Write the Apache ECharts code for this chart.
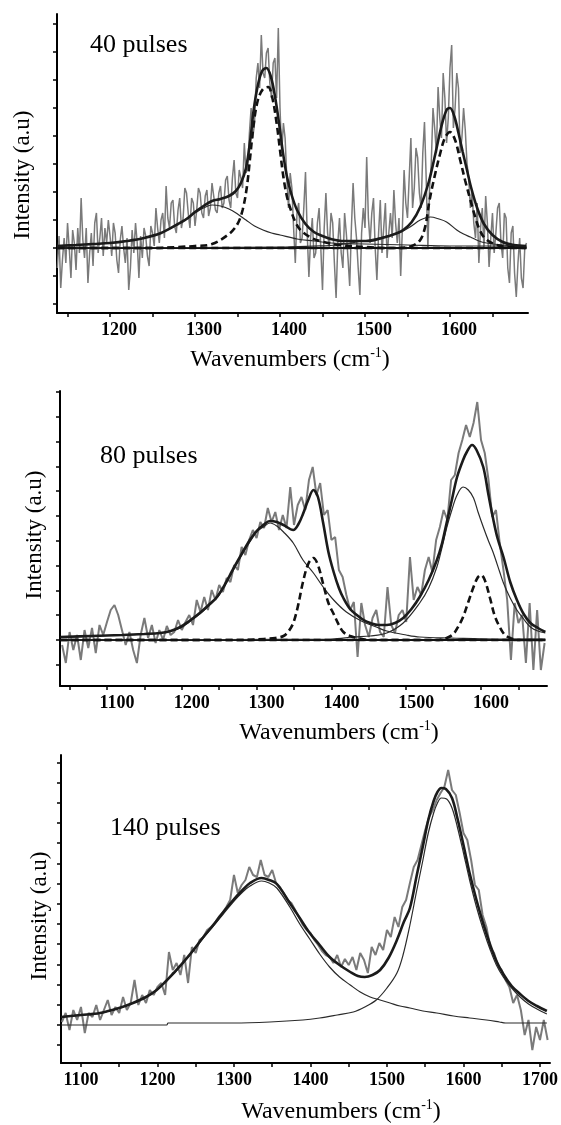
<!DOCTYPE html>
<html><head><meta charset="utf-8">
<script src="https://cdn.jsdelivr.net/npm/echarts@6/dist/echarts.min.js"></script>
<style>html,body{margin:0;padding:0;background:#fff}#c{width:561px;height:1125px}</style>
</head><body><div id="c"></div>
<script>
// ---------- Panel 1 : 40 pulses ----------
var p1Gray = [[1138,-20],[1140,12],[1142,-40],[1144,-12],[1146,10],[1148,-15],[1150,25],[1152,0],[1154,-30],[1156,18],[1158,5],[1160,-22],[1162,20],[1164,-5],[1166,50],[1168,8],[1170,-10],[1172,20],[1174,-35],[1176,-5],[1178,15],[1180,-18],[1182,25],[1184,35],[1186,-5],[1188,10],[1190,30],[1192,-8],[1194,20],[1196,5],[1198,28],[1200,12],[1202,-8],[1204,25],[1206,15],[1208,-12],[1210,-25],[1212,8],[1214,22],[1216,0],[1218,-15],[1220,10],[1222,-42],[1224,-20],[1226,18],[1228,-5],[1230,25],[1232,5],[1234,-30],[1236,12],[1238,-10],[1240,20],[1242,12],[1244,-8],[1246,-18],[1248,22],[1250,15],[1252,2],[1254,40],[1256,20],[1258,5],[1260,28],[1262,35],[1264,10],[1266,62],[1268,30],[1270,20],[1272,45],[1274,48],[1276,22],[1278,15],[1280,38],[1282,50],[1284,20],[1286,30],[1288,60],[1290,55],[1292,35],[1294,20],[1296,50],[1298,45],[1300,22],[1302,38],[1304,60],[1306,55],[1308,35],[1310,30],[1312,52],[1314,58],[1316,32],[1318,40],[1320,65],[1322,52],[1324,38],[1326,35],[1328,55],[1330,62],[1332,40],[1334,45],[1336,68],[1338,72],[1340,48],[1342,40],[1344,70],[1346,88],[1348,55],[1350,50],[1352,78],[1354,70],[1356,60],[1358,105],[1360,75],[1362,80],[1364,115],[1366,140],[1368,110],[1370,125],[1372,170],[1374,185],[1376,160],[1378,213],[1380,175],[1382,170],[1384,195],[1386,200],[1388,165],[1390,150],[1392,185],[1394,190],[1396,150],[1398,220],[1400,140],[1402,95],[1404,125],[1406,110],[1408,70],[1410,40],[1412,75],[1414,60],[1416,20],[1418,-15],[1420,35],[1422,45],[1424,5],[1426,10],[1428,40],[1430,76],[1432,15],[1434,-29],[1436,10],[1438,30],[1440,-10],[1442,-5],[1444,25],[1446,40],[1448,0],[1450,-42],[1452,20],[1454,55],[1456,15],[1458,0],[1460,35],[1462,25],[1464,-15],[1466,-50],[1468,5],[1470,30],[1472,-5],[1474,-20],[1476,35],[1478,15],[1480,-10],[1482,-38],[1484,20],[1486,65],[1488,30],[1490,10],[1492,-20],[1494,-47],[1496,15],[1498,40],[1500,20],[1502,91],[1504,30],[1506,5],[1508,35],[1510,50],[1512,0],[1514,-32],[1516,15],[1518,48],[1520,-5],[1522,20],[1524,45],[1526,-10],[1528,15],[1530,35],[1532,10],[1534,58],[1536,25],[1538,5],[1540,30],[1542,-28],[1544,20],[1546,78],[1548,45],[1550,30],[1552,70],[1554,110],[1556,40],[1558,60],[1560,100],[1562,90],[1564,55],[1566,40],[1568,95],[1570,126],[1572,70],[1574,0],[1576,60],[1578,85],[1580,140],[1582,120],[1584,95],[1586,161],[1588,130],[1590,110],[1592,175],[1594,150],[1596,105],[1598,130],[1600,180],[1602,203],[1604,120],[1606,140],[1608,175],[1610,160],[1612,95],[1614,110],[1616,140],[1618,118],[1620,85],[1622,70],[1624,40],[1626,56],[1628,25],[1630,10],[1632,45],[1634,-15],[1636,20],[1638,40],[1640,0],[1642,52],[1644,25],[1646,-19],[1648,10],[1650,35],[1652,-5],[1654,15],[1656,40],[1658,45],[1660,5],[1662,-10],[1664,35],[1666,30],[1668,-20],[1670,-35],[1672,15],[1674,22],[1676,-25],[1678,-49],[1680,-15],[1682,10],[1684,-30],[1686,-40],[1688,0],[1690,5]];
var p1Total = [[1138,2],[1160,3],[1180,4],[1200,5],[1220,7],[1240,10],[1260,15],[1280,24],[1290,29],[1300,36],[1310,42],[1320,47],[1330,49],[1340,52],[1348,57],[1354,65],[1360,80],[1365,108],[1369,138],[1374,163],[1379,177],[1384,180],[1389,172],[1394,152],[1399,124],[1403,98],[1408,72],[1413,55],[1420,38],[1430,24],[1440,16],[1450,12],[1460,9],[1475,7],[1490,7],[1505,7],[1520,10],[1535,14],[1545,18],[1555,26],[1565,41],[1575,66],[1583,95],[1590,122],[1596,138],[1600,140],[1605,132],[1610,115],[1615,96],[1620,78],[1625,60],[1632,40],[1640,24],[1650,13],[1662,6],[1675,3],[1690,2]];
var p1Dthin = [[1138,2],[1160,3],[1180,4],[1200,5],[1220,7],[1240,10],[1260,15],[1280,24],[1300,35],[1310,40],[1320,43],[1330,42],[1340,39],[1350,34],[1360,28],[1370,22],[1380,18],[1390,15],[1400,13],[1420,9],[1440,7],[1460,5],[1500,4],[1550,3],[1600,2],[1650,2],[1690,1]];
var p1Ddash = [[1138,0],[1250,0],[1280,1],[1300,2],[1320,4],[1340,14],[1350,24],[1356,38],[1361,61],[1365,92],[1369,124],[1374,148],[1380,159],[1386,161],[1391,150],[1396,125],[1400,98],[1404,71],[1408,52],[1412,40],[1418,26],[1424,18],[1435,11],[1447,7],[1470,3],[1500,1],[1530,0],[1690,0]];
var p1Gthin = [[1138,0],[1400,1],[1440,2],[1467,3],[1490,6],[1510,9],[1526,12],[1540,15],[1553,21],[1565,28],[1577,31],[1587,29],[1596,26],[1608,18],[1616,14],[1624,11],[1634,7],[1643,5],[1662,3],[1690,1]];
var p1Gdash = [[1138,0],[1540,0],[1555,2],[1565,8],[1571,22],[1576,48],[1582,72],[1588,93],[1594,110],[1600,116],[1606,108],[1612,88],[1618,67],[1624,48],[1630,30],[1635,18],[1642,9],[1655,3],[1670,1],[1690,0]];
var p1Base = [[1138,0],[1690,0]];
var p1XTicks = [1150,1200,1250,1300,1350,1400,1450,1500,1550,1600,1650];
var p1XLabels = [1200,1300,1400,1500,1600];
var p1YTicks = [-56,-28,0,28,56,84,112,140,168,196,224];

// ---------- Panel 2 : 80 pulses ----------
var p2Gray = [[1040,-5],[1045,-23],[1050,8],[1055,-10],[1060,5],[1065,-20],[1070,10],[1075,-8],[1080,12],[1085,-13],[1090,15],[1095,5],[1100,18],[1105,30],[1110,35],[1115,25],[1120,10],[1125,-5],[1130,8],[1135,-10],[1140,-23],[1145,5],[1150,22],[1155,2],[1160,15],[1165,-3],[1170,10],[1175,0],[1180,14],[1185,5],[1190,8],[1195,20],[1200,10],[1205,18],[1210,25],[1215,15],[1220,40],[1225,28],[1230,43],[1235,30],[1240,50],[1245,40],[1250,55],[1255,48],[1260,62],[1265,58],[1270,75],[1275,70],[1280,93],[1285,85],[1290,100],[1295,110],[1300,102],[1305,118],[1310,112],[1315,132],[1320,118],[1325,128],[1330,110],[1335,125],[1340,112],[1345,153],[1350,115],[1355,135],[1360,143],[1365,130],[1370,160],[1375,173],[1380,145],[1385,157],[1390,125],[1395,130],[1400,100],[1405,103],[1410,70],[1415,63],[1420,45],[1425,30],[1430,38],[1435,-17],[1440,37],[1445,15],[1450,3],[1455,22],[1460,30],[1465,8],[1470,3],[1475,53],[1480,15],[1485,7],[1490,25],[1495,30],[1500,18],[1505,83],[1510,40],[1515,53],[1520,45],[1525,70],[1530,83],[1535,68],[1540,100],[1545,113],[1550,130],[1555,120],[1560,160],[1565,165],[1570,187],[1575,200],[1580,215],[1585,203],[1590,217],[1595,238],[1600,200],[1605,187],[1610,160],[1615,123],[1620,130],[1625,97],[1630,70],[1635,40],[1640,-20],[1645,37],[1650,17],[1655,25],[1660,-23],[1665,37],[1670,-30],[1675,30],[1680,-30],[1685,-3]];
var p2Total = [[1038,3],[1080,4],[1120,5],[1150,6],[1171,7],[1185,9],[1198,13],[1210,19],[1224,27],[1236,35],[1247,43],[1258,56],[1268,70],[1280,86],[1291,100],[1300,109],[1309,115],[1318,119],[1327,118],[1336,115],[1349,110],[1356,116],[1362,126],[1369,140],[1376,150],[1382,143],[1389,117],[1396,88],[1403,68],[1410,52],[1416,42],[1425,31],[1434,25],[1443,20],[1452,17],[1463,15],[1474,15],[1485,17],[1496,22],[1507,31],[1518,43],[1530,60],[1541,80],[1548,97],[1554,117],[1561,140],[1568,163],[1576,180],[1581,188],[1588,195],[1594,190],[1603,173],[1610,145],[1616,122],[1622,102],[1630,83],[1639,58],[1648,40],[1657,26],[1666,17],[1676,12],[1686,8]];
var p2Dthin = [[1038,3],[1080,4],[1120,5],[1150,6],[1171,7],[1185,9],[1198,12],[1210,18],[1224,26],[1236,34],[1247,42],[1258,55],[1268,69],[1280,85],[1291,98],[1300,108],[1309,113],[1318,117],[1327,114],[1336,108],[1349,97],[1362,80],[1376,67],[1389,53],[1403,40],[1420,28],[1440,19],[1460,13],[1474,9],[1500,5],[1518,3],[1560,2],[1620,1],[1686,1]];
var p2Ddash = [[1038,0],[1280,0],[1310,1],[1325,2],[1336,4],[1343,9],[1349,17],[1355,33],[1362,58],[1369,76],[1376,82],[1382,75],[1389,56],[1396,37],[1403,26],[1410,15],[1416,8],[1425,4],[1434,2],[1450,0],[1686,0]];
var p2Gthin = [[1038,0],[1400,1],[1430,3],[1452,4],[1474,7],[1496,17],[1518,37],[1530,52],[1541,73],[1548,93],[1554,112],[1561,130],[1568,145],[1576,153],[1583,150],[1590,142],[1596,128],[1603,113],[1610,99],[1616,88],[1625,68],[1630,57],[1639,42],[1648,30],[1657,21],[1666,13],[1676,9],[1686,7]];
var p2Gdash = [[1038,0],[1540,0],[1554,2],[1563,6],[1570,14],[1576,23],[1583,38],[1590,53],[1596,63],[1600,65],[1605,60],[1612,42],[1618,25],[1625,13],[1632,5],[1639,2],[1650,0],[1686,0]];
var p2Base = [[1038,0],[1686,0]];
var p2XTicks = [1050,1100,1150,1200,1250,1300,1350,1400,1450,1500,1550,1600,1650];
var p2XLabels = [1100,1200,1300,1400,1500,1600];
var p2YTicks = [-24.8,0,24.8,49.6,74.4,99.2,124,148.8,173.6,198.4,223.2,248];

// ---------- Panel 3 : 140 pulses ----------
var p3Gray = [[1075,3],[1080,12],[1085,-5],[1090,15],[1095,5],[1100,18],[1105,-8],[1110,12],[1115,8],[1120,20],[1125,5],[1130,15],[1135,25],[1140,10],[1145,18],[1150,12],[1155,28],[1160,15],[1165,22],[1170,45],[1175,20],[1180,30],[1185,22],[1190,35],[1195,30],[1200,38],[1205,42],[1210,30],[1215,73],[1220,55],[1225,62],[1230,50],[1235,70],[1240,42],[1245,78],[1250,72],[1255,85],[1260,88],[1265,95],[1270,98],[1275,102],[1280,108],[1285,112],[1290,118],[1295,125],[1300,150],[1305,132],[1310,140],[1315,145],[1320,158],[1325,150],[1330,148],[1335,165],[1340,150],[1345,148],[1350,155],[1355,142],[1360,138],[1365,132],[1370,125],[1375,122],[1380,115],[1385,108],[1390,100],[1395,95],[1400,92],[1405,85],[1410,80],[1415,74],[1420,70],[1425,68],[1430,62],[1435,70],[1440,58],[1445,66],[1450,60],[1455,68],[1460,55],[1465,72],[1470,65],[1475,52],[1480,78],[1485,70],[1490,82],[1495,75],[1500,95],[1505,88],[1510,108],[1515,98],[1520,118],[1525,125],[1530,142],[1535,158],[1540,165],[1545,180],[1550,195],[1555,208],[1560,215],[1565,225],[1570,232],[1575,238],[1580,255],[1585,235],[1590,230],[1595,212],[1600,192],[1605,185],[1610,165],[1615,140],[1620,135],[1625,110],[1630,98],[1635,78],[1640,72],[1645,60],[1650,55],[1655,45],[1660,38],[1665,22],[1670,30],[1675,15],[1680,-10],[1685,5],[1690,-25],[1695,-2],[1700,-15],[1705,5],[1710,-15]];
var p3Total = [[1074,8],[1100,10],[1125,12],[1150,17],[1168,22],[1185,28],[1199,35],[1210,43],[1221,52],[1234,63],[1247,75],[1260,88],[1273,100],[1286,113],[1299,125],[1310,134],[1321,142],[1336,147],[1346,145],[1356,141],[1373,122],[1386,107],[1399,92],[1412,80],[1425,68],[1438,60],[1452,53],[1462,49],[1471,48],[1481,50],[1491,55],[1502,67],[1513,85],[1522,103],[1530,117],[1539,150],[1547,179],[1554,205],[1561,224],[1566,233],[1571,237],[1577,236],[1585,227],[1592,207],[1600,180],[1608,152],[1617,125],[1626,101],[1635,80],[1643,64],[1652,51],[1663,39],[1674,31],[1685,24],[1696,19],[1709,14]];
var p3Dthin = [[1074,8],[1100,10],[1125,12],[1150,17],[1168,22],[1185,28],[1199,35],[1210,43],[1221,51],[1234,62],[1247,74],[1260,87],[1273,99],[1286,111],[1299,123],[1310,132],[1321,139],[1336,144],[1346,142],[1356,137],[1373,118],[1386,101],[1399,86],[1412,71],[1425,58],[1438,48],[1452,40],[1465,33],[1478,28],[1491,25],[1504,22],[1517,19],[1530,17],[1547,14],[1565,12],[1587,9],[1608,7],[1630,5],[1647,3],[1655,2],[1709,2]];
var p3Gthin = [[1074,0],[1212,0],[1214,2],[1300,2],[1347,3],[1390,5],[1412,7],[1435,10],[1456,13],[1471,18],[1486,25],[1500,37],[1513,52],[1521,70],[1530,100],[1539,135],[1547,165],[1554,192],[1561,212],[1566,222],[1571,227],[1578,226],[1585,217],[1592,198],[1600,172],[1608,145],[1617,118],[1626,95],[1635,75],[1643,60],[1652,48],[1663,37],[1674,28],[1685,21],[1696,16],[1709,11]];
var p3XTicks = [1100,1150,1200,1250,1300,1350,1400,1450,1500,1550,1600,1650,1700];
var p3XLabels = [1100,1200,1300,1400,1500,1600,1700];
var p3YTicks = [-20.2,0,20.2,40.4,60.6,80.8,101,121.2,141.4,161.6,181.8,202,222.2,242.4,262.6];

var panelLabels = ['40 pulses','80 pulses','140 pulses'];
var xTitle = 'Wavenumbers (cm';
var yTitle = 'Intensity (a.u)';

// ---------- build ----------
var SERIF = '"Liberation Serif", "DejaVu Serif", serif';
var chart = echarts.init(document.getElementById('c'), null, {renderer: 'canvas'});

var grids = [
  {left: 57, top: 14, width: 471, height: 299},
  {left: 60, top: 391, width: 487, height: 295},
  {left: 61, top: 755, width: 489, height: 308}
];
var xr = [[1137.6, 1691.8], [1037.2, 1688.2], [1073.9, 1713.1]];
var yr = [[-65, 234], [-46, 249], [-38, 270]];
var xt = [p1XTicks, p2XTicks, p3XTicks];
var xl = [p1XLabels, p2XLabels, p3XLabels];
var ytk = [p1YTicks, p2YTicks, p3YTicks];
var lblPad = [18, 20, 0];

var xAxes = [], yAxes = [];
for (var i = 0; i < 3; i++) {
  xAxes.push({
    type: 'value', gridIndex: i, min: xr[i][0], max: xr[i][1],
    axisLine: {show: true, onZero: false, lineStyle: {color: '#000', width: 2}},
    axisTick: {show: true, customValues: xt[i], length: 4, lineStyle: {color: '#000', width: 1.5}},
    axisLabel: {show: true, customValues: xl[i], margin: 8, color: '#000', fontFamily: SERIF,
      fontWeight: 'bold', fontSize: 18, padding: [0, 0, 0, lblPad[i]],
      formatter: function (v) { return String(Math.round(v)); }},
    splitLine: {show: false}
  });
  yAxes.push({
    type: 'value', gridIndex: i, min: yr[i][0], max: yr[i][1],
    axisLine: {show: true, onZero: false, lineStyle: {color: '#000', width: 2}},
    axisTick: {show: true, customValues: ytk[i], length: 4, lineStyle: {color: '#000', width: 1.5}},
    axisLabel: {show: false},
    splitLine: {show: false}
  });
}

function ser(idx, data, style, z, smooth) {
  return {
    type: 'line', xAxisIndex: idx, yAxisIndex: idx, data: data, showSymbol: false,
    symbol: 'none', smooth: smooth ? 0.35 : false, lineStyle: style, z: z,
    silent: true, animation: false
  };
}
var gray = {color: '#7a7a7a', width: 1.5};
var gray2 = {color: '#7a7a7a', width: 2};
var thick = {color: '#1b1b1b', width: 2.6};
var thin = {color: '#2a2a2a', width: 1.2};
var dash = {color: '#111', width: 2.6, type: [7, 4]};
var base = {color: '#111', width: 2};

var series = [
  ser(0, p1Gray, gray, 1, false),
  ser(0, p1Base, base, 2, false),
  ser(0, p1Dthin, thin, 3, true),
  ser(0, p1Gthin, thin, 3, true),
  ser(0, p1Ddash, dash, 4, true),
  ser(0, p1Gdash, dash, 4, true),
  ser(0, p1Total, thick, 5, true),

  ser(1, p2Gray, gray2, 1, false),
  ser(1, p2Base, base, 2, false),
  ser(1, p2Dthin, thin, 3, true),
  ser(1, p2Gthin, thin, 3, true),
  ser(1, p2Ddash, dash, 4, true),
  ser(1, p2Gdash, dash, 4, true),
  ser(1, p2Total, thick, 5, true),

  ser(2, p3Gray, gray2, 1, false),
  ser(2, p3Dthin, thin, 3, true),
  ser(2, p3Gthin, thin, 3, true),
  ser(2, p3Total, thick, 5, true)
];

var richX = {
  a: {fontFamily: SERIF, fontSize: 24, color: '#000', lineHeight: 28},
  s: {fontFamily: SERIF, fontSize: 14, color: '#000', lineHeight: 28, verticalAlign: 'top', padding: [0, 0, 10, 0]}
};
function xT(x, y) {
  return {type: 'text', x: x, y: y, silent: true, z: 10,
    style: {text: '{a|' + xTitle + '}{s|-1}{a|)}', rich: richX, align: 'center', verticalAlign: 'middle',
      textAlign: 'center', textVerticalAlign: 'middle'}};
}
function yT(x, y) {
  return {type: 'text', x: x, y: y, rotation: Math.PI / 2, silent: true, z: 10,
    style: {text: yTitle, font: '23px ' + SERIF, fill: '#000', align: 'center', verticalAlign: 'middle',
      textAlign: 'center', textVerticalAlign: 'middle'}};
}
function pT(txt, x, y) {
  return {type: 'text', x: x, y: y, silent: true, z: 10,
    style: {text: txt, font: '26px ' + SERIF, fill: '#000', align: 'left', verticalAlign: 'middle',
      textAlign: 'left', textVerticalAlign: 'middle'}};
}

var graphics = [
  pT(panelLabels[0], 90, 45), pT(panelLabels[1], 100, 456), pT(panelLabels[2], 110, 828),
  yT(23, 175), yT(35, 535), yT(40, 916),
  xT(290, 360), xT(339, 733), xT(341, 1112)
];

chart.setOption({
  animation: false,
  backgroundColor: '#fff',
  grid: grids,
  xAxis: xAxes,
  yAxis: yAxes,
  series: series,
  graphic: graphics
});
</script></body></html>
